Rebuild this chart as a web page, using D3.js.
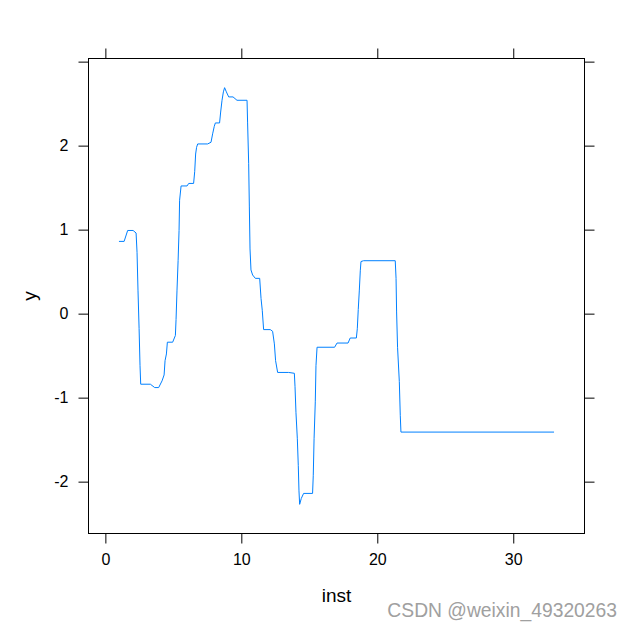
<!DOCTYPE html>
<html>
<head>
<meta charset="utf-8">
<script src="https://cdn.jsdelivr.net/npm/d3@7"></script>
<style>
body { margin: 0; background: #fff; }
svg { display: block; font-family: "Liberation Sans", Arial, sans-serif; }
.axis text { font-size: 16px; fill: #000; }
.axis line { stroke: #000; }
</style>
</head>
<body>
<div id="chart"></div>
<script>
var width = 633,
    height = 631;

// panel box in pixels
var panel = {left: 88.5, top: 58.5, right: 584.5, bottom: 533.5};

// data: inst (x) and y
var inst = [1.0, 1.38, 1.64, 2.04, 2.26, 2.33, 2.40, 2.48, 2.55, 2.60,
  3.31, 3.63, 3.92, 4.17, 4.32, 4.39, 4.49, 4.56, 4.95, 5.15,
  5.20, 5.27, 5.35, 5.42, 5.46, 5.57, 6.01, 6.13, 6.49, 6.57,
  6.64, 6.71, 6.79, 7.52, 7.77, 7.89, 8.01, 8.09, 8.40, 8.48,
  8.58, 8.68, 8.77, 8.90, 9.07, 9.39, 9.68, 10.42, 10.46, 10.54,
  10.59, 10.64, 10.71, 10.83, 11.03, 11.35, 11.45, 11.54, 11.64, 12.13,
  12.30, 12.43, 12.52, 12.67, 13.48, 13.90, 13.95, 14.02, 14.12, 14.19,
  14.24, 14.29, 14.41, 14.58, 15.24, 15.29, 15.35, 15.44, 15.49, 15.57,
  16.86, 17.04, 17.85, 18.01, 18.46, 18.53, 18.60, 18.68, 18.75, 18.80,
  18.99, 21.32, 21.38, 21.42, 21.49, 21.62, 21.69, 21.74, 33.0];

var yVals = [0.86, 0.86, 0.99, 0.99, 0.96, 0.73, 0.28, -0.175, -0.62, -0.84,
  -0.84, -0.88, -0.88, -0.80, -0.73, -0.56, -0.48, -0.34, -0.34, -0.26,
  -0.07, 0.28, 0.63, 0.99, 1.35, 1.52, 1.52, 1.55, 1.55, 1.69,
  1.90, 1.98, 2.02, 2.02, 2.04, 2.14, 2.23, 2.27, 2.27, 2.40,
  2.54, 2.64, 2.69, 2.64, 2.58, 2.58, 2.54, 2.54, 2.28, 1.79,
  1.27, 0.77, 0.52, 0.46, 0.42, 0.42, 0.18, 0.04, -0.19, -0.19,
  -0.21, -0.36, -0.56, -0.70, -0.70, -0.71, -0.87, -1.18, -1.49, -1.81,
  -2.11, -2.27, -2.20, -2.14, -2.14, -1.93, -1.49, -1.05, -0.62, -0.40,
  -0.40, -0.35, -0.35, -0.29, -0.29, -0.18, 0.05, 0.28, 0.51, 0.62,
  0.63, 0.63, 0.42, 0.02, -0.40, -0.81, -1.21, -1.41, -1.41];

var xTicks = [0, 10, 20, 30];
var yTicks = [-2, -1, 0, 1, 2, 3];
var yLabels = [-2, -1, 0, 1, 2];

var xLab = "inst", yLab = "y";

// lattice style padding: 7% on each side
function padded(ext) {
  var d = (ext[1] - ext[0]) * 0.07;
  return [ext[0] - d, ext[1] + d];
}

var x = d3.scaleLinear()
  .domain(padded(d3.extent(inst)))
  .range([panel.left, panel.right]);

var y = d3.scaleLinear()
  .domain(padded(d3.extent(yVals)))
  .range([panel.bottom, panel.top]);

var svg = d3.select("#chart").append("svg")
  .attr("width", width)
  .attr("height", height);

svg.append("rect")
  .attr("width", width)
  .attr("height", height)
  .attr("fill", "#fff");

// R prints a plain hyphen for negatives
var fmtY = function(d) { return yLabels.indexOf(d) >= 0 ? String(d) : ""; };

// left
svg.append("g")
  .attr("class", "axis")
  .attr("transform", "translate(" + panel.left + ",0)")
  .call(d3.axisLeft(y).tickValues(yTicks).tickFormat(fmtY).tickSize(10).tickPadding(10))
  .call(g => g.select(".domain").remove());

// right (ticks only)
svg.append("g")
  .attr("class", "axis")
  .attr("transform", "translate(" + panel.right + ",0)")
  .call(d3.axisRight(y).tickValues(yTicks).tickFormat("").tickSize(10))
  .call(g => g.select(".domain").remove());

// bottom
svg.append("g")
  .attr("class", "axis")
  .attr("transform", "translate(0," + panel.bottom + ")")
  .call(d3.axisBottom(x).tickValues(xTicks).tickFormat(String).tickSize(10).tickPadding(10))
  .call(g => g.select(".domain").remove());

// top (ticks only)
svg.append("g")
  .attr("class", "axis")
  .attr("transform", "translate(0," + panel.top + ")")
  .call(d3.axisTop(x).tickValues(xTicks).tickFormat("").tickSize(10))
  .call(g => g.select(".domain").remove());

svg.selectAll(".axis").attr("font-family", null).attr("font-size", null);

// panel border
svg.append("rect")
  .attr("x", panel.left)
  .attr("y", panel.top)
  .attr("width", panel.right - panel.left)
  .attr("height", panel.bottom - panel.top)
  .attr("fill", "none")
  .attr("stroke", "#000")
  .attr("stroke-width", 1);

var line = d3.line()
  .x(function(d, i) { return x(inst[i]); })
  .y(function(d) { return y(d); });

svg.append("path")
  .datum(yVals)
  .attr("fill", "none")
  .attr("stroke", "#0080ff")
  .attr("stroke-width", 1)
  .attr("d", line);

// axis titles
svg.append("text")
  .attr("x", (panel.left + panel.right) / 2)
  .attr("y", 601.5)
  .attr("text-anchor", "middle")
  .attr("font-size", 19)
  .text(xLab);

svg.append("text")
  .attr("transform", "translate(36," + (panel.top + panel.bottom) / 2 + ") rotate(-90)")
  .attr("text-anchor", "middle")
  .attr("font-size", 19)
  .text(yLab);

// watermark
svg.append("text")
  .attr("x", 617)
  .attr("y", 617)
  .attr("text-anchor", "end")
  .attr("font-size", 19.3)
  .attr("fill", "#a0a0a0")
  .text("CSDN @weixin_49320263");
</script>
</body>
</html>
